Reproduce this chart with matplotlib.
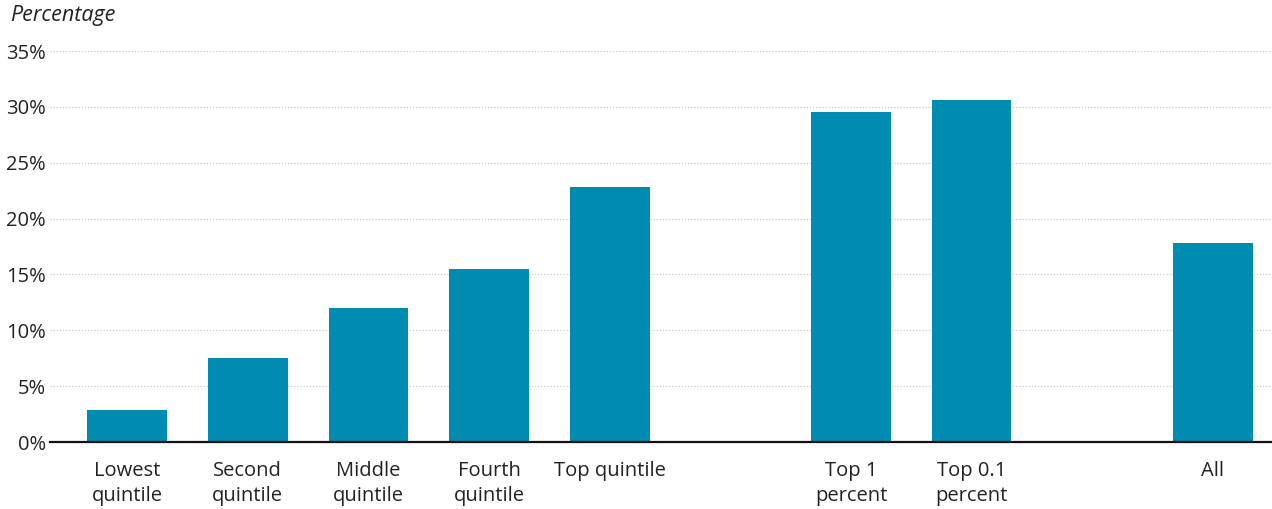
import matplotlib
matplotlib.use("Agg")
import matplotlib.pyplot as plt

categories = ["Lowest\nquintile", "Second\nquintile", "Middle\nquintile", "Fourth\nquintile",
              "Top quintile", "Top 1\npercent", "Top 0.1\npercent", "All"]
positions = [0, 1, 2, 3, 4, 6, 7, 9]
values = [2.9, 7.5, 12.0, 15.5, 22.8, 29.5, 30.6, 17.8]
yticks = [0, 5, 10, 15, 20, 25, 30, 35]
ytick_labels = ["0%", "5%", "10%", "15%", "20%", "25%", "30%", "35%"]

plt.rcParams['font.family'] = ['Open Sans', 'DejaVu Sans']

fig = plt.figure(figsize=(12.72, 5.09), dpi=100)
ax = fig.add_axes([0.0393, 0.1316, 0.9607, 0.7682])

ax.bar(positions, values, width=0.66, color="#008bb0", zorder=3)

ax.set_xlim(-0.64, 9.49)
ax.set_ylim(0, 35)
ax.set_yticks(yticks)
ax.set_yticklabels(ytick_labels, fontsize=14.5, color="#222222")
ax.set_xticks(positions)
ax.set_xticklabels(categories, fontsize=14.5, color="#222222", linespacing=1.3)
ax.tick_params(axis='both', length=0)
ax.tick_params(axis='x', pad=14)
ax.tick_params(axis='y', pad=3)

ax.grid(axis='y', color="#c8c8c8", linestyle=(0, (1, 1.5)), linewidth=0.9, zorder=0)
for s in ["top", "right", "left"]:
    ax.spines[s].set_visible(False)
ax.spines["bottom"].set_color("#111111")
ax.spines["bottom"].set_linewidth(1.6)
ax.spines["bottom"].set_zorder(4)

fig.text(10 / 1272, 1 - 15 / 509, "Percentage", fontsize=15.5, style="italic",
         color="#222222", ha="left", va="center")

fig.savefig("out.png", dpi=100)
